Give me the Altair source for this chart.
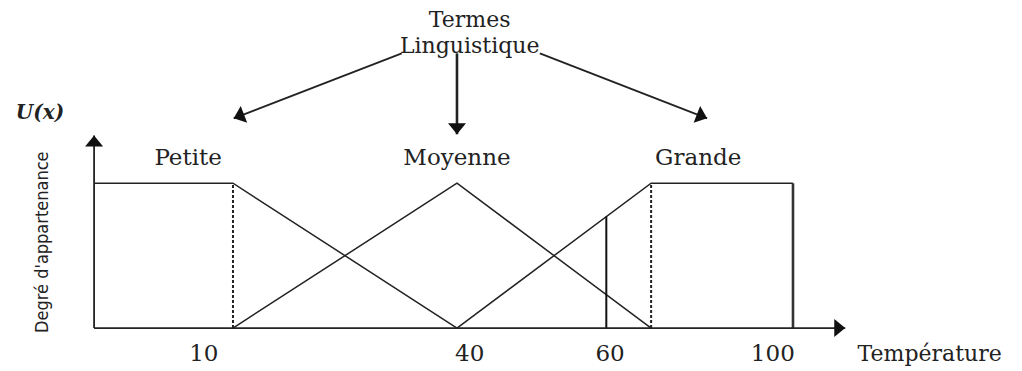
import math
import altair as alt
import pandas as pd

# ---------------- data (chart units: x = position on temperature axis, y = membership degree) ----
# membership functions (polylines)
petite_x = [-8.6, 10.0, 40.0]
petite_y = [1.0, 1.0, 0.0]
moyenne_x = [10.0, 40.0, 66.0]
moyenne_y = [0.0, 1.0, 0.0]
grande_x = [40.0, 66.0, 85.0]
grande_y = [0.0, 1.0, 1.0]

# axes
axis_origin = -8.6
yaxis_top = 1.33
xaxis_end = 92.0

# dashed shoulder lines and measurement line
dashed_x = [10.0, 66.0]
marker_x = 60.0
marker_y = 0.77
grande_end_x = 85.0

# tick labels
tick_labels = ["10", "40", "60", "100"]
tick_pos = [6.1, 41.7, 60.5, 82.3]
tick_y = -0.18

# term labels
term_labels = ["Petite", "Moyenne", "Grande"]
term_pos = [4.0, 40.0, 72.3]
term_y = 1.172

# header and arrows
header_labels = ["Termes", "Linguistique"]
header_pos = [41.7, 41.7]
header_y = [2.125, 1.95]
arrow_x0 = [32.6, 40.0, 51.1]
arrow_y0 = [1.897, 1.897, 1.897]
arrow_x1 = [10.1, 40.0, 73.5]
arrow_y1 = [1.448, 1.338, 1.448]
arrow_w = [1.8, 2.6, 1.8]

# ---------------- scales / layout -----------------
W, H = 1006, 363
XDOM = [-20.13, 114.6]
YDOM = [-0.2966, 2.21]
PX = W / (XDOM[1] - XDOM[0])
PY = H / (YDOM[1] - YDOM[0])

xs = alt.Scale(domain=XDOM, nice=False, zero=False)
ys = alt.Scale(domain=YDOM, nice=False, zero=False)
X = lambda f: alt.X(f, type="quantitative", scale=xs, axis=None)
Y = lambda f: alt.Y(f, type="quantitative", scale=ys, axis=None)

INK = "#222222"
SERIF = "DejaVu Serif, Liberation Serif, serif"

# membership lines
rows = []
for name, xv, yv in [("Petite", petite_x, petite_y), ("Moyenne", moyenne_x, moyenne_y),
                     ("Grande", grande_x, grande_y)]:
    for i, (a, b) in enumerate(zip(xv, yv)):
        rows.append({"set": name, "i": i, "x": a, "y": b})
mf = pd.DataFrame(rows)
mf_layer = alt.Chart(mf).mark_line(color=INK, strokeWidth=1.5).encode(
    x=X("x"), y=Y("y"), detail="set:N", order="i:Q")

# axes
ax = pd.DataFrame({"x": [axis_origin, axis_origin], "y": [0.0, 0.0],
                   "x2": [axis_origin, xaxis_end], "y2": [yaxis_top, 0.0]})
ax_layer = alt.Chart(ax).mark_rule(color=INK, strokeWidth=1.8).encode(
    x=X("x"), y=Y("y"), x2="x2", y2="y2")

# dashed lines
dl = pd.DataFrame({"x": dashed_x, "y": [0.0] * len(dashed_x), "y2": [1.0] * len(dashed_x)})
dash_layer = alt.Chart(dl).mark_rule(color=INK, strokeWidth=2, strokeDash=[3, 2]).encode(
    x=X("x"), y=Y("y"), y2="y2")

# measurement line at 60 and right edge of Grande
ml = pd.DataFrame({"x": [marker_x], "y": [0.0], "y2": [marker_y]})
mark_layer = alt.Chart(ml).mark_rule(color="#111111", strokeWidth=2).encode(
    x=X("x"), y=Y("y"), y2="y2")
ge = pd.DataFrame({"x": [grande_end_x], "y": [0.0], "y2": [1.0]})
ge_layer = alt.Chart(ge).mark_rule(color="#333333", strokeWidth=2.6).encode(
    x=X("x"), y=Y("y"), y2="y2")

# annotation arrow shafts
ar = pd.DataFrame({"x": arrow_x0, "y": arrow_y0, "x2": arrow_x1, "y2": arrow_y1, "w": arrow_w})
ar_layer = alt.Chart(ar).mark_rule(color=INK).encode(
    x=X("x"), y=Y("y"), x2="x2", y2="y2", strokeWidth=alt.StrokeWidth("w:Q", scale=None))

# arrow heads (tips); angles follow each shaft's on-screen direction
def ang(x0, y0, x1, y1):
    dx = (x1 - x0) * PX
    dy = -(y1 - y0) * PY
    return math.degrees(math.atan2(dx, -dy)) % 360

hx = list(arrow_x1) + [axis_origin, xaxis_end]
hy = list(arrow_y1) + [yaxis_top, 0.0]
ha = [ang(a, b, c, d) for a, b, c, d in zip(arrow_x0, arrow_y0, arrow_x1, arrow_y1)]
ha += [ang(axis_origin, 0.0, axis_origin, yaxis_top), ang(axis_origin, 0.0, xaxis_end, 0.0)]
heads = pd.DataFrame({"x": hx, "y": hy, "a": ha})
head_layer = alt.Chart(heads).mark_point(
    shape="M0,0L-1,1.22L1,1.22Z", filled=True, color="#111111", opacity=1, size=324, strokeWidth=0
).encode(x=X("x"), y=Y("y"), angle=alt.Angle("a:Q", scale=None))

# texts
def txt(labels, xpos, ypos, **kw):
    df = pd.DataFrame({"x": xpos, "y": ypos, "t": labels})
    return alt.Chart(df).mark_text(color=INK, align="center", baseline="middle", **kw).encode(
        x=X("x"), y=Y("y"), text="t:N")

ticks = txt(tick_labels, tick_pos, [tick_y] * len(tick_labels), font=SERIF, fontSize=23)
terms = txt(term_labels, term_pos, [term_y] * len(term_labels), font=SERIF, fontSize=23)
header = txt(header_labels, header_pos, header_y, font=SERIF, fontSize=22)
temp = txt(["Température"], [103.3], [tick_y], font=SERIF, fontSize=22)
ux = txt(["U(x)"], [-15.85], [1.483], font=SERIF, fontSize=20, fontStyle="italic", fontWeight="bold")
deg = txt(["Degré d'appartenance"], [-15.45], [0.593],
          font="Liberation Sans Narrow, DejaVu Sans Condensed, Roboto Condensed, sans-serif",
          fontSize=18, angle=270)

chart = alt.layer(
    mf_layer, ge_layer, dash_layer, mark_layer, ax_layer, ar_layer, head_layer,
    ticks, terms, header, temp, ux, deg
).properties(
    width=W, height=H, autosize=alt.AutoSizeParams(type="none"), padding=0,
    background="white"
).configure_view(strokeWidth=0)

chart.save("out.html", embed_options={"renderer": "svg", "actions": False})
